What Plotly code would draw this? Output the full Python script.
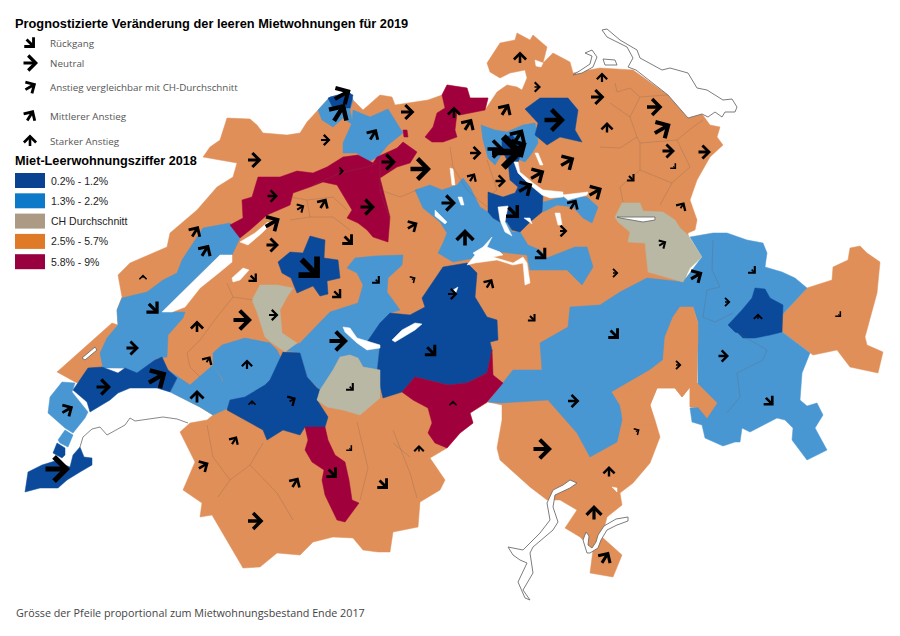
import math
import plotly.graph_objects as go

# colours of the classes
DARK = '#0B4A9A'
BLUE = '#4896D2'
BEIGE = '#B9B8A5'
ORANGE = '#E08F58'
RED = '#A0003C'

legend_labels = ['0.2% - 1.2%', '1.3% - 2.2%', 'CH Durchschnitt', '2.5% - 5.7%', '5.8% - 9%']
legend_colors = ['#0A4292', '#0D7AC9', '#AC9A85', '#DE7A28', '#99003F']
arrow_labels = ['Rückgang', 'Neutral', 'Anstieg vergleichbar mit CH-Durchschnitt', 'Mittlerer Anstieg', 'Starker Anstieg']

# map outlines
base = [(227,118),(250,119),(257,125),(263,133),(287,135),(300,133),(307,122),(318,110),(330,97),(350,93),(353,100),(363,110),(380,95),(392,97),(395,105),(428,100),(442,95),(447,85),(467,88),(470,98),(488,98),(485,110),(497,92),(507,85),(517,87),(522,90),(527,78),(525,70),(510,73),(500,78),(490,72),(487,63),(500,43),(515,40),(517,33),(530,40),(533,35),(547,47),(543,63),(553,53),(570,62),(573,73),(590,70),(600,68),(633,70),(668,95),(688,118),(702,114),(710,125),(720,127),(717,137),(723,145),(710,157),(697,180),(690,200),(697,220),(695,230),(688,233),(690,260),(680,300),(693,307),(698,343),(697,383),(717,403),(707,418),(698,407),(690,407),(690,387),(682,397),(675,388),(657,388),(650,405),(655,420),(660,437),(650,463),(633,483),(620,493),(622,505),(607,517),(602,537),(622,555),(613,577),(590,573),(593,550),(580,537),(565,528),(577,510),(560,500),(547,500),(530,487),(500,460),(497,448),(502,420),(502,405),(488,402),(470,413),(473,423),(460,433),(447,448),(430,458),(445,480),(440,490),(420,502),(418,527),(393,532),(390,552),(378,552),(363,550),(353,538),(333,537),(313,542),(300,555),(277,553),(260,567),(243,568),(227,540),(212,515),(200,517),(202,503),(183,490),(195,462),(180,432),(190,423),(207,420),(213,415),(200,407),(173,393),(168,370),(100,367),(77,383),(57,372),(112,323),(118,325),(117,310),(122,297),(118,275),(130,263),(167,247),(170,233),(197,210),(217,187),(233,177),(237,163),(203,157),(210,147),(220,140)]
engadin = [(807,288),(780,317),(782,332),(810,353),(813,355),(837,350),(850,367),(878,373),(883,352),(867,345),(865,337),(877,293),(880,262),(867,253),(860,246),(850,248),(848,260),(833,267),(832,280)]
ticino_east = [(612,392),(650,370),(663,360),(665,337),(673,317),(680,307),(693,307),(698,323),(698,343),(695,363),(697,383),(717,403),(707,418),(698,407),(690,407),(690,387),(682,397),(675,388),(657,388),(650,405),(655,425),(640,425),(625,425),(620,405)]

blue_vaud = [(122,298),(147,292),(163,280),(177,273),(182,260),(197,238),(203,228),(230,223),(240,238),(232,255),(220,255),(162,312),(185,312),(183,318),(168,335),(167,357),(157,358),(137,375),(125,368),(103,368),(100,353),(107,338),(118,325),(117,310)]
blue_nyon = [(62,382),(75,383),(72,392),(88,412),(85,418),(73,433),(65,428),(48,413),(50,397)]
blue_small = [(58,440),(65,430),(73,435),(68,447),(60,443)]
blue_fribourg = [(213,353),(222,345),(245,338),(270,343),(277,350),(285,367),(270,380),(253,397),(230,400),(225,407),(222,395),(223,380),(213,365)]
blue_lavaux = [(168,370),(177,378),(170,392),(200,407),(213,415),(235,405),(228,398),(222,380),(213,365),(190,385)]
blue_simme = [(347,268),(355,258),(375,256),(403,255),(402,265),(388,278),(387,292),(400,310),(390,313),(380,323),(367,342),(380,345),(377,373),(380,398),(380,370),(363,367),(358,358),(350,355),(340,357),(333,370),(320,390),(307,377),(300,353),(283,350),(300,343),(330,312),(358,303),(363,285),(357,273)]
blue_jura = [(343,143),(352,123),(353,110),(370,117),(388,109),(403,133),(388,145),(378,157),(368,162),(357,153),(343,153)]
blue_basel = [(318,110),(330,97),(350,93),(353,100),(350,110),(353,125),(343,118),(333,127),(322,120)]
blue_ring_zh = [(481,125),(495,130),(507,132),(523,125),(535,123),(538,143),(532,153),(525,162),(515,158),(503,152),(495,165),(488,158),(483,140)]
blue_central = [(415,190),(430,185),(442,190),(457,185),(463,178),(470,187),(480,207),(488,212),(493,218),(500,222),(507,222),(512,232),(520,232),(528,245),(540,250),(547,258),(575,247),(587,247),(593,267),(582,285),(567,270),(530,270),(527,255),(500,252),(475,258),(453,262),(438,253),(443,243),(447,233),(440,222),(423,208)]
blue_march = [(540,203),(558,198),(562,197),(587,197),(598,207),(592,223),(583,218),(573,207),(557,205),(543,212)]
blue_ticino = [(540,343),(568,327),(570,307),(600,305),(620,292),(633,285),(647,278),(683,282),(695,290),(693,307),(680,307),(673,317),(665,337),(663,360),(650,370),(612,392),(620,405),(622,420),(617,442),(590,457),(577,433),(548,400),(502,403),(488,402),(503,383),(513,370),(542,370)]
blue_grisons = [(683,282),(702,257),(690,237),(713,233),(727,233),(747,240),(763,243),(767,253),(765,267),(782,272),(795,278),(807,288),(780,317),(782,332),(810,353),(802,373),(800,400),(807,406),(817,403),(823,415),(815,428),(827,450),(807,460),(792,440),(793,428),(785,420),(777,418),(750,432),(742,428),(740,442),(735,442),(723,446),(705,438),(702,425),(692,422),(690,408),(698,407),(698,343),(698,323),(693,307)]

dark_chur = [(728,325),(742,310),(752,298),(755,288),(765,289),(770,298),(783,305),(782,332),(770,335),(755,338),(743,338),(738,333),(735,332)]
dark_bern = [(278,262),(290,252),(303,253),(310,236),(325,240),(324,258),(338,260),(340,278),(327,281),(328,294),(320,296),(313,286),(297,293),(291,278),(282,273)]
dark_oberland = [(443,267),(467,263),(477,273),(475,297),(487,317),(497,320),(498,340),(490,342),(492,350),(487,373),(467,383),(448,385),(415,377),(402,392),(383,398),(377,373),(380,345),(367,342),(380,323),(390,313),(410,315),(425,307),(422,298),(433,282)]
dark_gruyere = [(283,352),(300,353),(307,377),(317,388),(320,390),(317,400),(328,417),(325,427),(305,427),(300,435),(283,430),(267,440),(263,430),(240,417),(227,410),(230,400),(245,397),(265,385),(270,380)]
dark_morges = [(73,390),(88,368),(102,367),(118,373),(125,368),(137,373),(155,360),(162,357),(168,370),(177,378),(170,392),(157,388),(143,388),(130,388),(118,393),(110,400),(90,412),(87,402)]
dark_geneva = [(25,492),(28,472),(42,465),(55,461),(70,467),(73,455),(80,447),(84,457),(92,458),(92,465),(80,472),(67,480),(58,488),(40,488)]
dark_versoix = [(53,453),(57,443),(65,448),(65,455),(62,458)]
dark_basel = [(328,98),(347,92),(353,95),(350,108),(333,108)]
dark_winterthur = [(525,109),(540,98),(568,98),(578,110),(575,130),(582,142),(560,137),(547,145),(535,135),(538,123)]
dark_zurich = [(502,138),(512,135),(523,148),(518,162),(507,160),(502,150)]
dark_zug = [(508,162),(510,180),(518,187),(515,193),(503,197),(488,192),(488,212),(493,218),(500,222),(507,222),(512,230),(520,232),(530,222),(542,212),(543,195),(535,187),(522,178),(517,162)]

red_jura = [(230,225),(243,218),(242,200),(252,197),(258,177),(280,177),(297,171),(313,173),(327,167),(343,157),(358,155),(373,163),(377,157),(397,148),(403,142),(417,152),(410,163),(397,167),(380,178),(390,217),(388,242),(373,237),(367,230),(358,223),(347,218),(352,210),(337,185),(323,182),(310,187),(293,193),(290,205),(267,215),(250,230),(240,238)]
red_dot = [(403,130),(407,130),(408,137),(404,137)]
red_zurzach = [(425,137),(433,127),(437,113),(445,108),(442,95),(447,85),(467,88),(470,98),(488,98),(485,110),(460,115),(457,113),(455,130),(457,137),(443,142),(432,142)]
red_valais = [(415,377),(448,385),(467,383),(487,373),(492,350),(493,375),(503,383),(487,402),(470,413),(473,423),(460,433),(447,448),(435,443),(428,433),(432,423),(428,408),(413,400),(402,392)]
red_sion = [(305,427),(325,427),(328,440),(335,455),(345,462),(349,480),(352,500),(359,503),(345,522),(337,520),(325,495),(322,480),(324,470),(312,462),(305,450),(308,440)]

beige_sense = [(252,300),(260,285),(277,285),(293,288),(287,297),(280,310),(282,333),(297,343),(285,352),(272,343),(265,337),(257,312)]
beige_saanen = [(350,355),(358,358),(363,367),(380,370),(380,398),(360,415),(343,410),(327,407),(317,400),(320,390),(333,370),(340,357)]
beige_sargans = [(615,217),(622,203),(640,203),(643,211),(663,212),(675,220),(680,228),(688,235),(702,257),(690,268),(683,282),(648,272),(645,243),(628,242),(630,232),(618,222)]

lake_neuchatel = [(162,312),(197,277),(220,255),(232,255),(232,262),(220,272),(200,288),(185,307),(172,312)]
lake_murten = [(232,278),(243,268),(249,270),(240,280),(233,282)]
lake_biel = [(240,242),(255,233),(268,222),(270,225),(262,233),(248,245)]
lake_hallwil = [(450,168),(453,169),(455,185),(452,185)]
lake_baldegg = [(458,197),(462,197),(464,205),(461,205)]
lake_sempach = [(435,210),(447,222),(445,224),(435,216)]
lake_zug = [(498,207),(508,206),(505,222),(512,236),(505,232),(500,220)]
lake_lauerz = [(524,218),(532,224),(530,218)]
lake_zurich = [(514,162),(518,162),(520,172),(533,183),(543,190),(563,192),(563,197),(550,198),(542,195),(530,185),(518,173)]
lake_obersee = [(562,195),(588,192),(587,195),(568,200)]
lake_greifen = [(535,153),(538,153),(543,165),(540,165)]
lake_aegeri = [(555,213),(560,213),(562,225),(558,225)]
lake_lucerne = [(473,253),(483,247),(492,237),(487,247),(500,252),(503,255),(493,257),(513,263),(523,257),(527,263),(530,283),(525,285),(523,263),(513,265),(497,260),(475,263),(467,265),(475,255)]
lake_brienz = [(392,340),(402,330),(415,323),(422,324),(415,330),(403,337),(395,342)]
lake_thun = [(343,327),(350,328),(357,338),(380,345),(380,348),(367,350),(357,343),(345,332)]
lake_sarnen = [(453,290),(458,287),(455,295)]
hole_rafz = [(535,60),(543,63),(541,67),(536,66)]
hole_spot = [(612,487),(617,488),(617,492)]

# lakes with a grey rim
lake_joux = [(82,358),(95,347),(97,350),(85,360)]
lake_walen = [(617,217),(655,217),(655,220),(643,222),(620,218)]
lake_constance = [(602,30),(607,29),(620,40),(637,50),(640,58),(662,70),(670,68),(688,73),(697,88),(707,90),(723,100),(732,99),(737,107),(735,112),(725,112),(722,117),(715,112),(708,117),(702,114),(688,118),(668,95),(636,70),(628,67),(633,58),(627,47),(607,37)]
lake_unter = [(573,75),(582,73),(593,67),(597,57),(592,50),(585,53),(592,56),(590,64),(581,70)]
lake_island = [(603,59),(615,60),(617,65),(605,65)]
lake_maggiore = [(577,483),(570,480),(563,485),(553,490),(547,503),(550,520),(540,533),(523,550),(508,547),(513,555),(520,560),(527,563),(518,582),(525,598),(530,600),(523,590),(533,573),(530,553),(533,547),(553,530),(558,522),(553,507),(555,495),(570,488)]
lake_lugano = [(628,517),(628,521),(617,525),(607,530),(601,540),(598,548),(590,553),(587,553),(583,540),(586,532),(589,536),(588,545),(592,548),(596,542),(598,535),(604,526),(616,519)]
geneva_south = [(80,447),(83,437),(92,429),(100,427),(107,435),(125,425),(130,418),(135,421),(163,417),(177,419),(188,423)]

# faint district borders
borders = [
    [(227,283),(233,297),(217,317),(200,340),(187,353),(190,367),(200,377)],
    [(233,297),(253,300)],
    [(615,83),(617,92),(630,88),(640,97),(630,117),(637,137),(620,148),(600,147)],
    [(640,97),(667,95)],
    [(637,137),(640,143),(640,170),(620,187),(623,202)],
    [(640,143),(677,140),(693,127),(703,120)],
    [(677,140),(690,167),(672,183),(640,170)],
    [(672,183),(660,205)],
    [(610,103),(630,117)],
    [(450,147),(453,167),(467,190),(487,207)],
    [(487,160),(497,190),(487,197)],
    [(380,190),(400,197),(417,190)],
    [(380,160),(380,190),(390,220)],
    [(290,197),(307,200),(310,217),(290,220)],
    [(307,200),(333,197),(347,210)],
    [(310,217),(333,217),(350,230)],
    [(713,240),(712,270),(720,287),(707,290),(703,317),(715,322),(733,313)],
    [(738,333),(767,350),(763,360),(737,373),(740,397),(727,413)],
    [(313,185),(340,173),(367,167),(377,163)],
    [(207,425),(213,457),(230,480),(218,497)],
    [(230,480),(250,465),(263,443)],
    [(250,465),(277,493),(293,520)],
    [(357,422),(368,468),(360,500)],
    [(393,430),(410,473),(417,498)],
    [(410,457),(393,443)],
]

# arrows: centre, direction (degrees, 0 = east, 90 = north), length
arrow_x = [30,30,30,30,30, 254,143,195,205,153,132,197,242,273,208,247,157,103,197,67,57,252,292,234,203,295,255,332,350,383,419,542,637,609,594,605,573,614,696,662,615,753,727,758,839,723,678,769,431,338,532,489,452,413,377,337,348,310,351,453,465,412,541,563,272,300,323,367,272,272,253,373,325,339,342,341,388,407,420,454,468,505,475,495,507,518,518,554,520,537,567,537,525,472,500,448,513,573,595,654,662,668,704,674,607,631,682,602,597]
arrow_y = [43,63,87,116,141, 160,277,232,251,308,348,327,320,315,360,365,378,387,397,410,469,403,400,441,466,483,521,473,449,484,449,449,431,472,513,558,401,334,276,244,273,271,302,317,315,356,365,401,351,341,318,284,294,279,281,294,240,268,388,403,238,226,254,231,196,208,204,207,223,245,278,135,140,113,95,171,162,112,169,113,125,110,153,149,152,137,148,120,58,87,162,175,188,178,181,203,212,205,192,107,129,151,152,167,128,178,206,78,97]
arrow_dir = [-45,0,30,58,90, 0,90,58,58,-45,0,90,0,0,58,90,30,0,90,30,0,90,30,58,30,58,0,-45,-45,-45,90,0,30,90,90,58,0,-45,30,30,0,-45,0,90,-45,0,0,-45,-45,0,-45,58,0,30,-45,-45,-45,-45,-45,90,90,30,-45,0,0,30,58,0,30,0,-45,58,0,58,30,0,0,0,0,90,58,58,0,0,0,58,30,0,90,0,30,30,30,58,0,0,-45,58,30,0,30,0,0,-45,90,-45,58,90,0]
arrow_len = [14,16,14,14,13, 15,5,14,15,16,14,13,20,11,9,11,22,16,14,14,26,6,9,11,13,13,17,14,6,14,8,20,6,12,16,15,13,14,15,10,7,8,7,7,6,12,7,13,15,20,10,12,11,6,8,12,14,28,8,5,18,13,15,9,12,10,13,16,18,14,11,14,11,22,20,6,16,15,22,13,15,15,13,18,33,18,20,22,13,8,17,17,17,11,12,16,17,13,16,17,20,14,14,6,12,10,9,11,15]

TITLE_FONT = 'Liberation Sans'
TEXT_FONT = 'Open Sans'

fig = go.Figure()


def region(points, color, rim=None, rim_width=0.5):
    fig.add_trace(go.Scatter(
        x=[p[0] for p in points] + [points[0][0]],
        y=[p[1] for p in points] + [points[0][1]],
        mode='lines', fill='toself', fillcolor=color,
        line=dict(color=rim or color, width=rim_width),
        hoverinfo='skip', showlegend=False))


for poly in [base, engadin]:
    region(poly, ORANGE)
for poly in [blue_vaud, blue_nyon, blue_small, blue_fribourg, blue_lavaux, blue_simme, blue_jura, blue_basel,
             blue_ring_zh, blue_central, blue_march, blue_ticino, blue_grisons]:
    region(poly, BLUE)
region(ticino_east, ORANGE)
for poly in [dark_chur, dark_bern, dark_oberland, dark_gruyere, dark_morges, dark_geneva, dark_versoix,
             dark_basel, dark_winterthur, dark_zurich, dark_zug]:
    region(poly, DARK)
for poly in [red_jura, red_dot, red_zurzach, red_valais, red_sion]:
    region(poly, RED)
for poly in [beige_sense, beige_saanen, beige_sargans]:
    region(poly, BEIGE)

border_x, border_y = [], []
for line in borders:
    border_x += [p[0] for p in line] + [None]
    border_y += [p[1] for p in line] + [None]
fig.add_trace(go.Scatter(x=border_x, y=border_y, mode='lines', hoverinfo='skip', showlegend=False,
                         line=dict(color='rgba(110,90,80,0.3)', width=0.8)))

for poly in [lake_neuchatel, lake_murten, lake_biel, lake_hallwil, lake_baldegg, lake_sempach, lake_zug, lake_lauerz,
             lake_zurich, lake_obersee, lake_greifen, lake_aegeri, lake_lucerne, lake_brienz, lake_thun, lake_sarnen,
             hole_rafz, hole_spot]:
    region(poly, 'white')
for poly in [lake_joux, lake_walen, lake_constance, lake_unter, lake_island, lake_maggiore, lake_lugano]:
    region(poly, 'white', rim='#6E6E6E', rim_width=0.9)
fig.add_trace(go.Scatter(x=[p[0] for p in geneva_south], y=[p[1] for p in geneva_south], mode='lines',
                         hoverinfo='skip', showlegend=False, line=dict(color='#7A7A7A', width=0.9)))

# arrows
for x, y, angle, length in zip(arrow_x, arrow_y, arrow_dir, arrow_len):
    dx = math.cos(math.radians(angle)) * length
    dy = math.sin(math.radians(angle)) * length
    fig.add_annotation(x=x + dx / 2, y=y - dy / 2, ax=-dx, ay=dy, axref='pixel', ayref='pixel',
                       xref='x', yref='y', text='', showarrow=True, arrowhead=4, arrowcolor='black',
                       arrowwidth=max(length * 0.2, 1.2), arrowsize=0.9 if length >= 10 else 1.15,
                       standoff=0, startstandoff=0)


def label(x, y, text, size, color='#111111', family=TEXT_FONT, bold=False):
    fig.add_annotation(x=x, y=y, xref='x', yref='y', xshift=-2, text='<b>%s</b>' % text if bold else text,
                       showarrow=False, xanchor='left', yanchor='middle',
                       font=dict(family=family, size=size, color=color))


label(15, 23, 'Prognostizierte Veränderung der leeren Mietwohnungen für 2019', 12.8, 'black', TITLE_FONT, True)
for y, text in zip([43, 63, 87, 116, 141], arrow_labels):
    label(50, y, text, 9.8, '#555555')
label(15, 161, 'Miet-Leerwohnungsziffer 2018', 12.7, 'black', TITLE_FONT, True)
for i, (text, color) in enumerate(zip(legend_labels, legend_colors)):
    top = 173 + i * 20.3
    fig.add_shape(type='rect', x0=15, x1=45, y0=top, y1=top + 15, xref='x', yref='y',
                  fillcolor=color, line=dict(width=0))
    label(51, top + 7.5, text, 10.5, '#222222', TITLE_FONT)
label(16, 613, 'Grösse der Pfeile proportional zum Mietwohnungsbestand Ende 2017', 10.75, '#444444')

fig.update_layout(
    width=900, height=636, margin=dict(l=0, r=0, t=0, b=0),
    paper_bgcolor='white', plot_bgcolor='white', showlegend=False,
    xaxis=dict(range=[0, 900], visible=False, fixedrange=True),
    yaxis=dict(range=[636, 0], visible=False, fixedrange=True),
)
fig.write_html("out.html", config=dict(displayModeBar=False),
               post_script="document.body.style.margin='0';")
